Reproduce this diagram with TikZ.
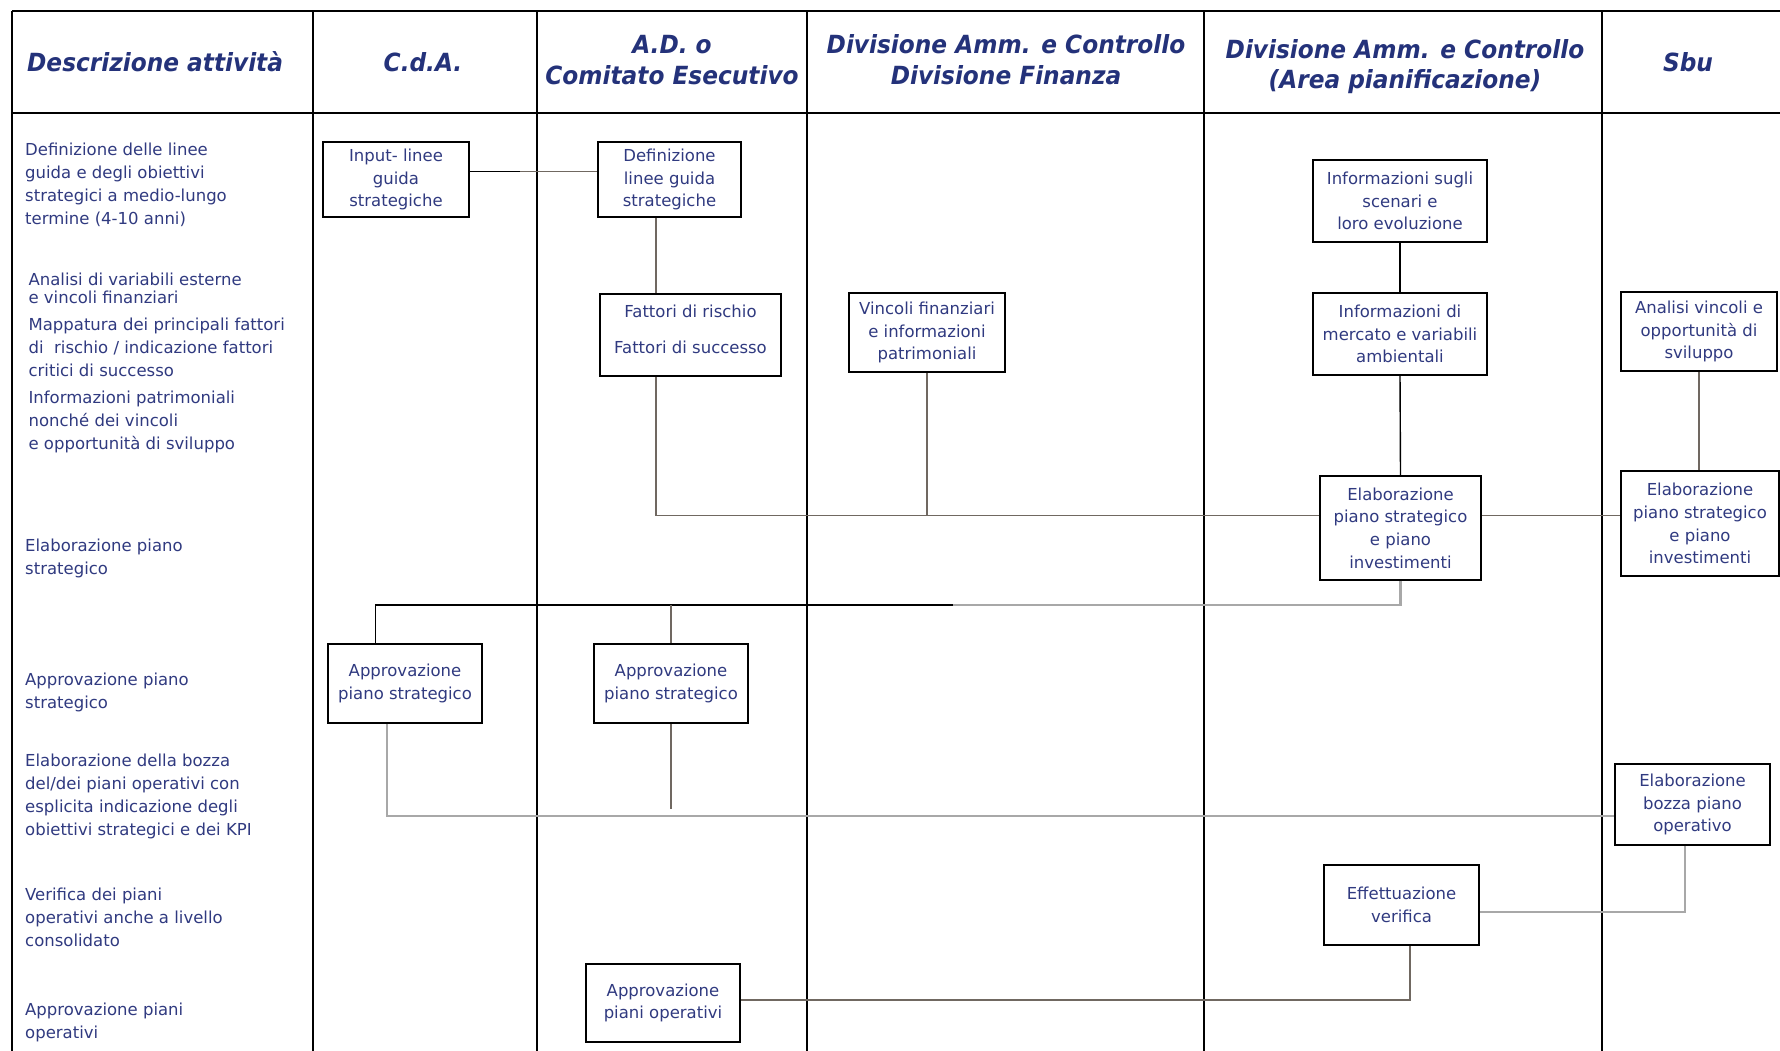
\documentclass[tikz,border=0pt]{standalone}
\usepackage{fontspec}
\setmainfont{DejaVu Sans}
\newfontfamily\hdfont[FakeStretch=0.93]{DejaVu Sans}
\definecolor{txt}{RGB}{48,58,128}
\definecolor{hdc}{RGB}{36,50,122}
\definecolor{cbrown}{RGB}{112,104,97}
\definecolor{clight}{RGB}{168,168,168}
\begin{document}
\begin{tikzpicture}[x=1pt,y=-1pt,
  grid/.style={line width=1.6pt, draw=black},
  hd/.style={font=\hdfont\bfseries\itshape\fontsize{25}{30.6}\selectfont, text=hdc, inner sep=0pt, align=center},
  lbl/.style={font=\fontsize{16.5}{23}\selectfont, text=txt, inner sep=0pt, align=left, anchor=north west},
  box/.style={draw=black, line width=1.6pt, fill=white, text=txt, font=\fontsize{16.5}{22.7}\selectfont, align=center, inner sep=1pt},
  cb/.style={draw=cbrown, line width=1.4pt},
  cl/.style={draw=clight, line width=2.2pt},
  ck/.style={draw=black, line width=1.4pt}]
\useasboundingbox[fill=white] (0,0) rectangle (1780,1051);

% table grid
\draw[grid] (12,11) -- (1780,11);
\draw[grid] (12,113) -- (1780,113);
\foreach \xx in {12,313,537,807,1204,1602}
  \draw[grid] (\xx,11) -- (\xx,1051);

% headers
\node[hd, anchor=base west] (h1) at (27,71.7) {Descrizione attività};
\node[hd, anchor=base] (h2) at (423,71.7) {C.d.A.};
\node[hd, anchor=north] (h3) at (672,32.2) {\strut A.D. o\\Comitato Esecutivo};
\node[hd, anchor=north] (h4) at (1006,32.2) {\strut Divisione Amm. e Controllo\\Divisione Finanza};
\node[hd, anchor=north] (h5) at (1405,36.7) {\strut Divisione Amm. e Controllo\\(Area pianificazione)};
\node[hd, anchor=base] (h6) at (1688,71.7) {Sbu};

% left column descriptions
\node[lbl] (b1) at (25,139.3) {\strut Definizione delle linee\\guida e degli obiettivi\\strategici a medio-lungo\\termine (4-10 anni)};
\node[lbl] (b2) at (28.4,268.8) {\strut Analisi di variabili esterne\\[-4.8pt]e vincoli finanziari};
\node[lbl] (b3) at (28.4,314.2) {\strut Mappatura dei principali fattori\\di\ \ rischio / indicazione fattori\\critici di successo};
\node[lbl] (b4) at (28.4,386.9) {\strut Informazioni patrimoniali\\nonché dei vincoli\\e opportunità di sviluppo};
\node[lbl] (b5) at (25,535.6) {\strut Elaborazione piano\\strategico};
\node[lbl] (b6) at (25,669.6) {\strut Approvazione piano\\strategico};
\node[lbl] (b7) at (25,750.2) {\strut Elaborazione della bozza\\del/dei piani operativi con\\esplicita indicazione degli\\obiettivi strategici e dei KPI};
\node[lbl] (b8) at (25,884.1) {\strut Verifica dei piani\\operativi anche a livello\\consolidato};
\node[lbl] (b9) at (25,998.7) {\strut Approvazione piani\\operativi};

% boxes
\node[box, minimum width=146pt, minimum height=75pt] (inp) at (396,179.5) {Input- linee\\guida\\strategiche};
\node[box, minimum width=143pt, minimum height=75pt] (defl) at (669.5,179.5) {Definizione\\linee guida\\strategiche};
\node[box, minimum width=181pt, minimum height=82pt] (fatt) at (690.5,335) {Fattori di rischio\\[13pt]Fattori di successo\\[-11.3pt]\mbox{}};
\node[box, minimum width=156pt, minimum height=79pt] (vinc) at (927,332.5) {Vincoli finanziari\\e informazioni\\patrimoniali};
\node[box, minimum width=174pt, minimum height=82pt] (scen) at (1400,201) {Informazioni sugli\\scenari e\\loro evoluzione};
\node[box, minimum width=174pt, minimum height=82pt] (merc) at (1400,334) {Informazioni di\\mercato e variabili\\ambientali};
\node[box, minimum width=156pt, minimum height=79pt] (anal) at (1699,331.5) {Analisi vincoli e\\opportunità di\\sviluppo};
\node[box, minimum width=161pt, minimum height=104pt] (elab) at (1400.5,528) {Elaborazione\\piano strategico\\e piano\\investimenti};
\node[box, minimum width=158pt, minimum height=105pt] (elsb) at (1700,523.5) {Elaborazione\\piano strategico\\e piano\\investimenti};
\node[box, minimum width=154pt, minimum height=79pt] (apc) at (405,683.5) {Approvazione\\piano strategico};
\node[box, minimum width=154pt, minimum height=79pt] (apa) at (671,683.5) {Approvazione\\piano strategico};
\node[box, minimum width=155pt, minimum height=81pt] (bozza) at (1692.5,804.5) {Elaborazione\\bozza piano\\operativo};
\node[box, minimum width=155pt, minimum height=80pt] (eff) at (1401.5,905) {Effettuazione\\verifica};
\node[box, minimum width=154pt, minimum height=78pt] (apo) at (663,1003) {Approvazione\\piani operativi};

% helper coordinates
\coordinate (xa) at (656,0);
\coordinate (hy) at (0,515.4);
\coordinate (m1) at (520,171.5);
\coordinate (m2) at (953,605);
\coordinate (xb) at (375.7,0);
\coordinate (xc) at (387,0);
\coordinate (hz) at (0,816.2);
\coordinate (apaend) at (671,809.4);
\coordinate (xd) at (1684.6,0);
\coordinate (hw) at (0,911.6);
\coordinate (xe) at (1410,0);
\coordinate (hv) at (0,1000.1);

% connectors
\draw[ck] (inp.east |- m1) -- (m1);
\draw[cb] (m1) -- (defl.west |- m1);
\draw[cb] (defl.south -| xa) -- (fatt.north -| xa);
\draw[cb] (fatt.south -| xa) |- (elab.west |- hy);
\draw[cb] (vinc.south) -- (vinc.south |- hy);
\draw[ck] (scen.south) -- (merc.north);
\draw[ck] (merc.south) -- (elab.north);
\draw[cb] (elab.east |- hy) -- (elsb.west |- hy);
\draw[cb] (anal.south) -- (anal.south |- elsb.north);
\draw[cl] (elab.south) |- (m2);
\draw[ck] (m2) -| (apc.north -| xb);
\draw[cb] (apa.north) -- (apa.north |- m2);
\draw[cl] (apc.south -| xc) |- (bozza.west |- hz);
\draw[cb] (apa.south) -- (apaend);
\draw[cl] (bozza.south -| xd) |- (eff.east |- hw);
\draw[cb] (eff.south -| xe) |- (apo.east |- hv);
\end{tikzpicture}
\end{document}
